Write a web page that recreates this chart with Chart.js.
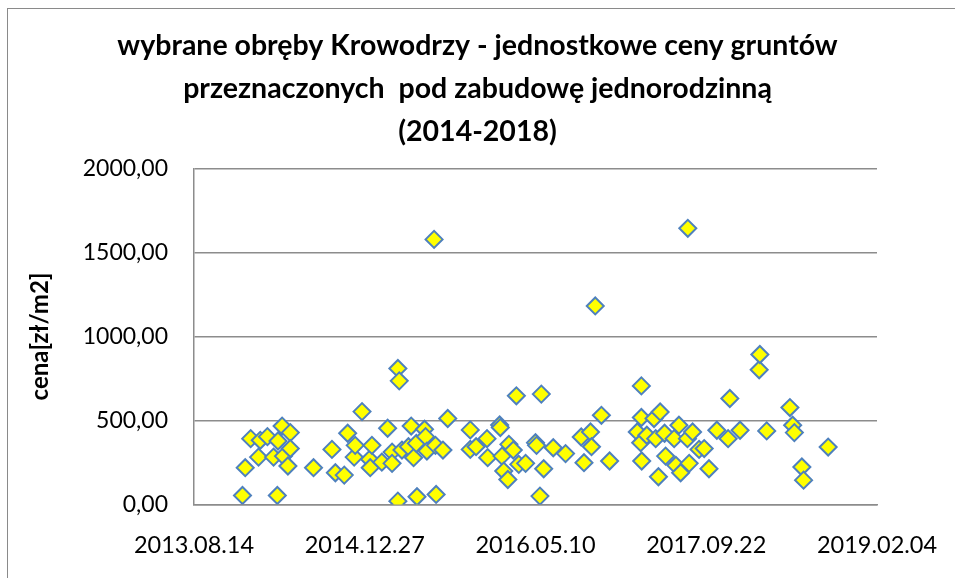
<!DOCTYPE html>
<html lang="pl">
<head>
    <meta charset="UTF-8">
    <title>Krowodrza - ceny gruntów</title>
    <script src="https://cdn.jsdelivr.net/npm/chart.js"></script>
    <style>
        body {
            margin: 0;
            padding: 0;
            background: #ffffff;
            overflow: hidden;
        }
        .wrap {
            position: relative;
            width: 955px;
            height: 578px;
        }
        .frame {
            position: absolute;
            left: 7px;
            top: 8px;
            width: 1200px;
            height: 1200px;
            border: 1.5px solid #8a8a8a;
        }
        canvas {
            position: absolute;
            left: 0;
            top: 0;
        }
    </style>
</head>
<body>
    <div class="wrap">
        <div class="frame"></div>
        <canvas id="priceChart" width="955" height="578"></canvas>
    </div>

    <script>
        // transaction dates as Excel serial numbers (days since 1899-12-30)
        const excelDates = [
            41642, 41650, 41666, 41689, 41694, 41715, 41733, 41744, 41746, 41758,
            41762, 41775, 41782, 41782, 41850, 41904, 41914, 41940, 41950, 41969,
            41972, 41992, 42014, 42016, 42021, 42050, 42067, 42080, 42080, 42097,
            42097, 42101, 42109, 42128, 42136, 42143, 42151, 42153, 42175, 42178,
            42182, 42203, 42207, 42209, 42229, 42243, 42309, 42309, 42326, 42358,
            42360, 42395, 42397, 42402, 42407, 42419, 42422, 42435, 42444, 42451,
            42471, 42500, 42503, 42513, 42517, 42524, 42552, 42588, 42634, 42642,
            42661, 42664, 42675, 42693, 42717, 42798, 42808, 42810, 42810, 42811,
            42826, 42847, 42852, 42860, 42865, 42878, 42881, 42906, 42911, 42920,
            42925, 42945, 42946, 42950, 42960, 42979, 42994, 43008, 43031, 43064,
            43069, 43099, 43155, 43157, 43177, 43245, 43253, 43258, 43280, 43285,
            43357
        ];
        // unit price [zł/m2]
        const prices = [
            54, 219, 392, 282, 382, 404, 282, 54, 378, 467,
            288, 229, 428, 333, 219, 328, 189, 175, 424, 282,
            352, 553, 269, 219, 352, 252, 454, 312, 245, 810,
            20, 736, 324, 344, 467, 279, 364, 46, 448, 404,
            318, 1578, 352, 60, 324, 512, 444, 328, 344, 392,
            279, 473, 458, 288, 199, 149, 358, 324, 647, 239,
            245, 368, 352, 50, 657, 213, 338, 303, 402, 249,
            432, 344, 1182, 531, 259, 432, 368, 706, 518, 259,
            412, 512, 392, 165, 551, 424, 288, 392, 233, 472,
            189, 392, 1644, 245, 432, 328, 333, 213, 442, 392,
            631, 442, 802, 893, 438, 577, 472, 428, 223, 145,
            342
        ];
        const xTicks = [41500, 42000, 42500, 43000, 43500];
        const yTicks = [0, 500, 1000, 1500, 2000];

        const titleLines = [
            'wybrane obręby Krowodrzy - jednostkowe ceny gruntów',
            'przeznaczonych  pod zabudowę jednorodzinną',
            '(2014-2018)'
        ];

        function excelToLabel(serial) {
            const d = new Date(Date.UTC(1899, 11, 30) + serial * 86400000);
            const mm = String(d.getUTCMonth() + 1).padStart(2, '0');
            const dd = String(d.getUTCDate()).padStart(2, '0');
            return d.getUTCFullYear() + '.' + mm + '.' + dd;
        }

        const points = excelDates.map((x, i) => ({ x: x, y: prices[i] }));
        const gridGray = '#8c8c8c';
        const fontFamily = 'Lato, "Open Sans", sans-serif';

        const ctx = document.getElementById('priceChart').getContext('2d');
        const priceChart = new Chart(ctx, {
            type: 'scatter',
            data: {
                datasets: [{
                    label: 'cena',
                    data: points,
                    pointStyle: 'rectRot',
                    pointRadius: 8.5,
                    pointHoverRadius: 8.5,
                    backgroundColor: '#ffff00',
                    borderColor: '#4f81bd',
                    borderWidth: 2
                }]
            },
            options: {
                responsive: false,
                animation: false,
                devicePixelRatio: 1,
                layout: { padding: 0 },
                plugins: {
                    legend: { display: false },
                    tooltip: { enabled: false },
                    title: {
                        display: true,
                        text: titleLines,
                        color: '#000000',
                        font: { family: fontFamily, size: 28.5, weight: 'bold', lineHeight: '43px' },
                        padding: { top: 24, bottom: 15.5 }
                    }
                },
                scales: {
                    x: {
                        type: 'linear',
                        min: 41500,
                        max: 43500,
                        afterBuildTicks: (scale) => {
                            scale.ticks = xTicks.map(v => ({ value: v }));
                        },
                        afterFit: (scale) => { scale.height = 73.5; },
                        // invisible tick marks only push the labels down
                        grid: { display: false, drawTicks: true, tickLength: 25 },
                        border: { display: true, color: gridGray, width: 1.5 },
                        ticks: {
                            color: '#000000',
                            padding: 2,
                            maxRotation: 0,
                            font: { family: fontFamily, size: 23.5 },
                            callback: (v) => excelToLabel(v)
                        }
                    },
                    y: {
                        min: 0,
                        max: 2000,
                        afterBuildTicks: (scale) => {
                            scale.ticks = yTicks.map(v => ({ value: v }));
                        },
                        afterFit: (scale) => { scale.width = 194; },
                        grid: { color: gridGray, lineWidth: 1.5, drawTicks: false },
                        border: { display: true, color: gridGray, width: 1.5 },
                        title: {
                            display: true,
                            text: 'cena[zł/m2]',
                            color: '#000000',
                            font: { family: fontFamily, size: 24, weight: 'bold' },
                            padding: { top: 26, bottom: 0 }
                        },
                        ticks: {
                            color: '#000000',
                            padding: 26,
                            font: { family: fontFamily, size: 23 },
                            callback: (v) => v.toFixed(2).replace('.', ',')
                        }
                    },
                    // empty right-hand box that reserves the space right of the plot
                    spacer: {
                        type: 'linear',
                        position: 'right',
                        display: true,
                        grid: { display: false, drawTicks: false },
                        border: { display: false },
                        ticks: { display: false },
                        afterFit: (scale) => { scale.width = 78; }
                    }
                }
            }
        });
    </script>
</body>
</html>
